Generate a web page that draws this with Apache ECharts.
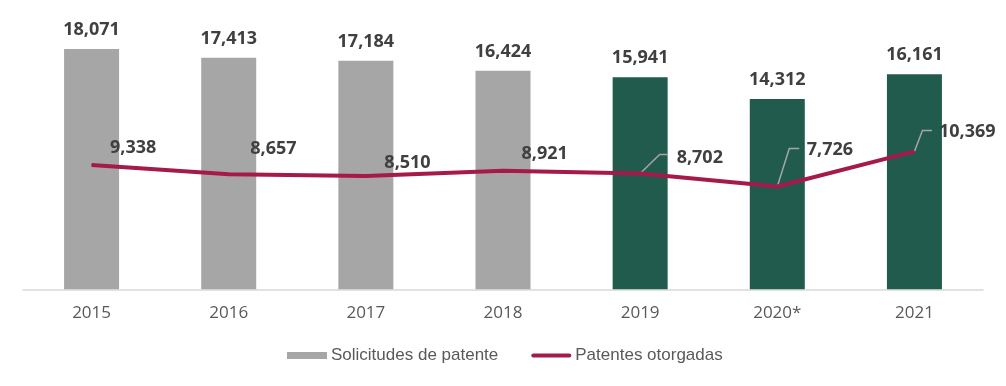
<!DOCTYPE html>
<html><head><meta charset="utf-8">
<script src="https://cdn.jsdelivr.net/npm/echarts@6/dist/echarts.min.js"></script>
<style>html,body{margin:0;padding:0;background:#fff}#c{width:1006px;height:386px}</style>
</head><body><div id="c"></div>
<script>
const categories = ['2015','2016','2017','2018','2019','2020*','2021'];
const solicitudes = [18071, 17413, 17184, 16424, 15941, 14312, 16161];
const otorgadas = [9338, 8657, 8510, 8921, 8702, 7726, 10369];

const grey = '#A6A6A6', green = '#215B4D', crimson = '#A51A4A';
// label offsets relative to each point (code-side styling, not data)
const lineLabelOffsets = [[18,-17],[21,-25],[18,-13],[18,-17],[36,-16],[29,-37],[24,-20]];
// leader-line bends for labels moved away from points: [diagonal end, horizontal end] offsets
const guideOffsets = [null,null,null,null,[[19.5,-19],[27.5,-19]],[[12,-38],[22,-38]],[[8,-21],[17.5,-21]]];

const chart = echarts.init(document.getElementById('c'));
chart.setOption({
  animation: false,
  grid: {left: 23, right: 23, top: 23.3, bottom: 96.7},
  xAxis: {
    type: 'category', data: categories,
    axisLine: {lineStyle: {color: '#D9D9D9', width: 1.5}},
    axisTick: {show: false},
    axisLabel: {color: '#595959', fontSize: 17, fontFamily: 'Open Sans', margin: 15}
  },
  yAxis: {type: 'value', min: 0, max: 20000, show: false, splitLine: {show: false}},
  legend: {
    left: 287, top: 347, padding: 0, itemGap: 33, itemWidth: 40, itemHeight: 7,
    textStyle: {color: '#595959', fontSize: 17, fontFamily: 'Liberation Sans', padding: [0,0,0,-1]},
    data: [
      {name: 'Solicitudes de patente', icon: 'rect'},
      {name: 'Patentes otorgadas', icon: 'path://M2,0 L38,0 A2,2 0 0 1 38,4 L2,4 A2,2 0 0 1 2,0 Z', itemStyle: {color: crimson}}
    ]
  },
  series: [
    {
      name: 'Solicitudes de patente', type: 'bar', barWidth: 55,
      itemStyle: {color: grey},
      data: solicitudes.map((v, i) => ({value: v, itemStyle: {color: i >= 4 ? green : grey}})),
      label: {show: true, position: 'top', distance: 10, color: '#404040', fontSize: 18,
        fontWeight: 'bold', fontFamily: 'Open Sans',
        formatter: p => p.value.toLocaleString('en-US')}
    },
    {
      name: 'Patentes otorgadas', type: 'line', symbol: 'circle', symbolSize: 1, z: 5,
      itemStyle: {color: crimson},
      lineStyle: {color: crimson, width: 4},
      data: otorgadas,
      label: {show: true, position: 'right', distance: 0, color: '#404040', fontSize: 18,
        fontWeight: 'bold', fontFamily: 'Open Sans',
        formatter: p => p.value.toLocaleString('en-US')},
      labelLayout: p => ({dx: lineLabelOffsets[p.dataIndex][0], dy: lineLabelOffsets[p.dataIndex][1]})
    }
  ]
});

// leader lines anchored to the library's own pixel positions of each point
const guides = [];
otorgadas.forEach((v, i) => {
  const g = guideOffsets[i];
  if (!g) return;
  const p = chart.convertToPixel({seriesIndex: 1}, [i, v]);
  guides.push({
    type: 'polyline', z: 4, zlevel: 0,
    shape: {points: [p, [p[0] + g[0][0], p[1] + g[0][1]], [p[0] + g[1][0], p[1] + g[1][1]]]},
    style: {stroke: '#A6A6A6', lineWidth: 1.5, fill: null}
  });
});
chart.setOption({graphic: {elements: guides}});
</script></body></html>
